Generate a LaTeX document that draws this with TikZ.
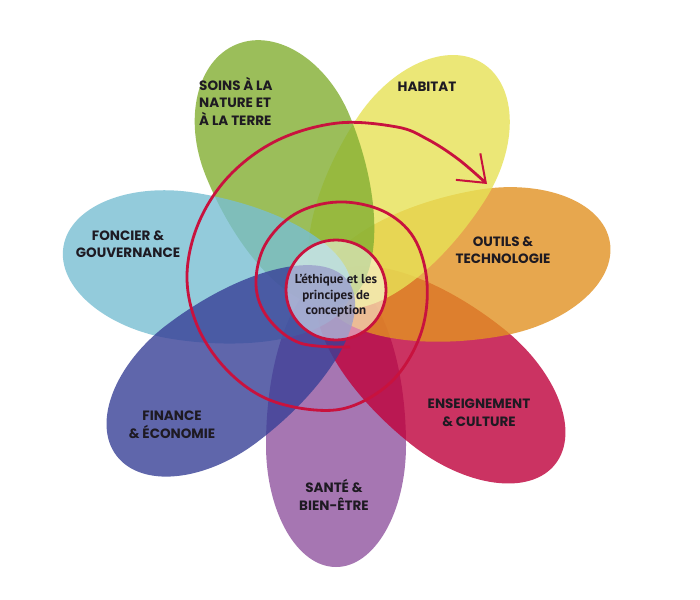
\documentclass[tikz,border=0pt]{standalone}
\usepackage{fontspec}
\setmainfont{Poppins}
\newfontfamily\ctrfont{PT Sans}
\usetikzlibrary{arrows.meta}
\definecolor{cGreen}{RGB}{130,174,49}
\definecolor{cYellow}{RGB}{231,226,86}
\definecolor{cOrange}{RGB}{226,146,34}
\definecolor{cCrimson}{RGB}{191,1,59}
\definecolor{cPurple}{RGB}{144,84,159}
\definecolor{cBlue}{RGB}{56,64,151}
\definecolor{cLight}{RGB}{120,191,211}
\definecolor{cSpiral}{RGB}{200,18,62}
\definecolor{cText}{RGB}{30,26,34}
% angle, colour, length, half-width
\newcommand{\petal}[4]{%
  \begin{scope}[shift={(336,290)}, rotate=#1]
    \fill[#2, fill opacity=0.8] (155,#4) arc[start angle=-90, end angle=90, x radius=#3pt-155pt, y radius=#4pt]
      arc[start angle=90, end angle=270, x radius=170pt, y radius=#4pt] -- cycle;
  \end{scope}}
\begin{document}
\begin{tikzpicture}[x=1pt, y=-1pt,
  lab/.style={text=cText, font=\fontsize{13.5}{17.5}\selectfont\bfseries, align=center, inner sep=0pt},
  ctr/.style={text=cText, font=\ctrfont\fontsize{13}{15.5}\selectfont\bfseries, align=center, inner sep=0pt},
  spiral/.style={draw=cSpiral, line width=2.8pt}]
\useasboundingbox (0,0) rectangle (700,599);
\fill[white] (0,0) rectangle (700,599);
% petals, bottom to top
\petal{-90}{cPurple}{277}{70}
\petal{-38.5}{cCrimson}{280}{74}
\petal{10}{cOrange}{278}{74}
\petal{57}{cYellow}{270}{76}
\petal{112}{cGreen}{265}{78}
\petal{171}{cLight}{276}{74}
\petal{-143}{cBlue}{275}{74}
% centre
\node[circle, minimum size=100pt, fill=white, fill opacity=0.5, draw=cSpiral, draw opacity=1, line width=2.8pt] (core) at (336,290) {};
\node[ctr] (coretext) at (336,296) {L’éthique et les\\principes de\\conception};
% spiral
\draw[spiral, -{Straight Barb[length=24pt, width=36pt, line width=2pt]}] plot[smooth, tension=0.6] coordinates {
 (350,347) (300,343) (268,318) (256,285) (265,245) (295,214) (338,202) (383,211) (414,238) (427,283) (421,333) (395,378) (355,405) (315,410) (265,398) (225,368) (197,325) (187,275) (199,222) (230,175) (278,140) (338,123) (397,127) (427,139) (458,159) (487,184)};
% labels
\node[lab, anchor=west, align=left] (soins) at (199,101) {SOINS À LA\\NATURE ET\\À LA TERRE};
\node[lab] (habitat) at (427,87) {HABITAT};
\node[lab] (foncier) at (128,244) {FONCIER \&\\GOUVERNANCE};
\node[lab] (outils) at (503,250) {OUTILS \&\\TECHNOLOGIE};
\node[lab] (ens) at (479,413) {ENSEIGNEMENT\\\& CULTURE};
\node[lab] (fin) at (172,425) {FINANCE\\\& ÉCONOMIE};
\node[lab] (sante) at (334,495) {SANTÉ \&\\BIEN-ÊTRE};
\end{tikzpicture}
\end{document}
